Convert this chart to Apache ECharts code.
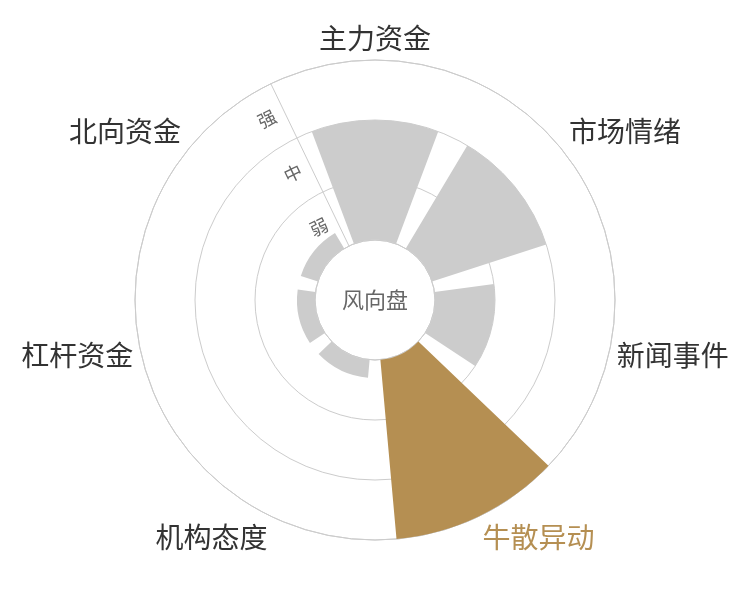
<!DOCTYPE html>
<html>
<head>
<meta charset="utf-8">
<script src="https://cdn.jsdelivr.net/npm/echarts@6/dist/echarts.min.js"></script>
<style>html,body{margin:0;padding:0;background:#fff;}#chart{width:750px;height:600px;}</style>
</head>
<body>
<div id="chart"></div>
<script>
var categories = ['主力资金', '市场情绪', '新闻事件', '牛散异动', '机构态度', '杠杆资金', '北向资金'];
var values = [2, 2, 1, 3, 0.3, 0.3, 0.3];
var levels = ['弱', '中', '强'];
var highlight = '牛散异动';
var centerText = '风向盘';

var GOLD = '#b58f52';
var GRAY = '#cccccc';
var FONT = '"Noto Sans CJK SC", "Noto Sans", sans-serif';
var startAngle = 90 + 360 / categories.length / 2;

var angleData = categories.map(function (c) {
  return c === highlight ? { value: c, textStyle: { color: GOLD } } : { value: c };
});

var chart = echarts.init(document.getElementById('chart'));
chart.setOption({
  backgroundColor: '#fff',
  animation: false,
  title: {
    text: centerText,
    left: 'center',
    top: 'middle',
    textStyle: { color: '#666', fontSize: 22, fontWeight: 'normal', fontFamily: FONT }
  },
  polar: [
    { center: ['50%', '50%'], radius: ['20%', '80%'] },
    { center: ['50%', '50%'], radius: ['20%', '80%'] }
  ],
  angleAxis: [
    {
      polarIndex: 0,
      type: 'category',
      data: angleData,
      startAngle: startAngle,
      clockwise: true,
      boundaryGap: true,
      axisLine: { show: true, lineStyle: { color: '#cccccc', width: 1 } },
      axisTick: { show: false },
      splitLine: { show: false },
      axisLabel: {
        margin: 8,
        fontSize: 28,
        fontFamily: FONT,
        color: '#333333'
      }
    },
    {
      polarIndex: 1,
      type: 'category',
      data: categories,
      startAngle: startAngle,
      clockwise: true,
      boundaryGap: true,
      axisLine: { show: false },
      axisTick: { show: false },
      splitLine: { show: false },
      axisLabel: { show: false }
    }
  ],
  radiusAxis: [
    {
      polarIndex: 0,
      type: 'category',
      data: levels,
      boundaryGap: true,
      axisLine: { show: true, lineStyle: { color: '#cccccc', width: 1 } },
      axisTick: { show: false },
      splitLine: { show: true, lineStyle: { color: '#cccccc', width: 1 } },
      axisLabel: { rotate: startAngle - 90, margin: 10, fontSize: 18, color: '#666666', fontFamily: FONT }
    },
    {
      polarIndex: 1,
      type: 'value',
      min: 0,
      max: 3,
      axisLine: { show: false },
      axisTick: { show: false },
      splitLine: { show: false },
      axisLabel: { show: false }
    }
  ],
  series: [
    {
      type: 'bar',
      coordinateSystem: 'polar',
      polarIndex: 1,
      barCategoryGap: '20%',
      data: values.map(function (v, i) {
        return { value: v, itemStyle: { color: categories[i] === highlight ? GOLD : GRAY } };
      })
    }
  ]
});
</script>
</body>
</html>
